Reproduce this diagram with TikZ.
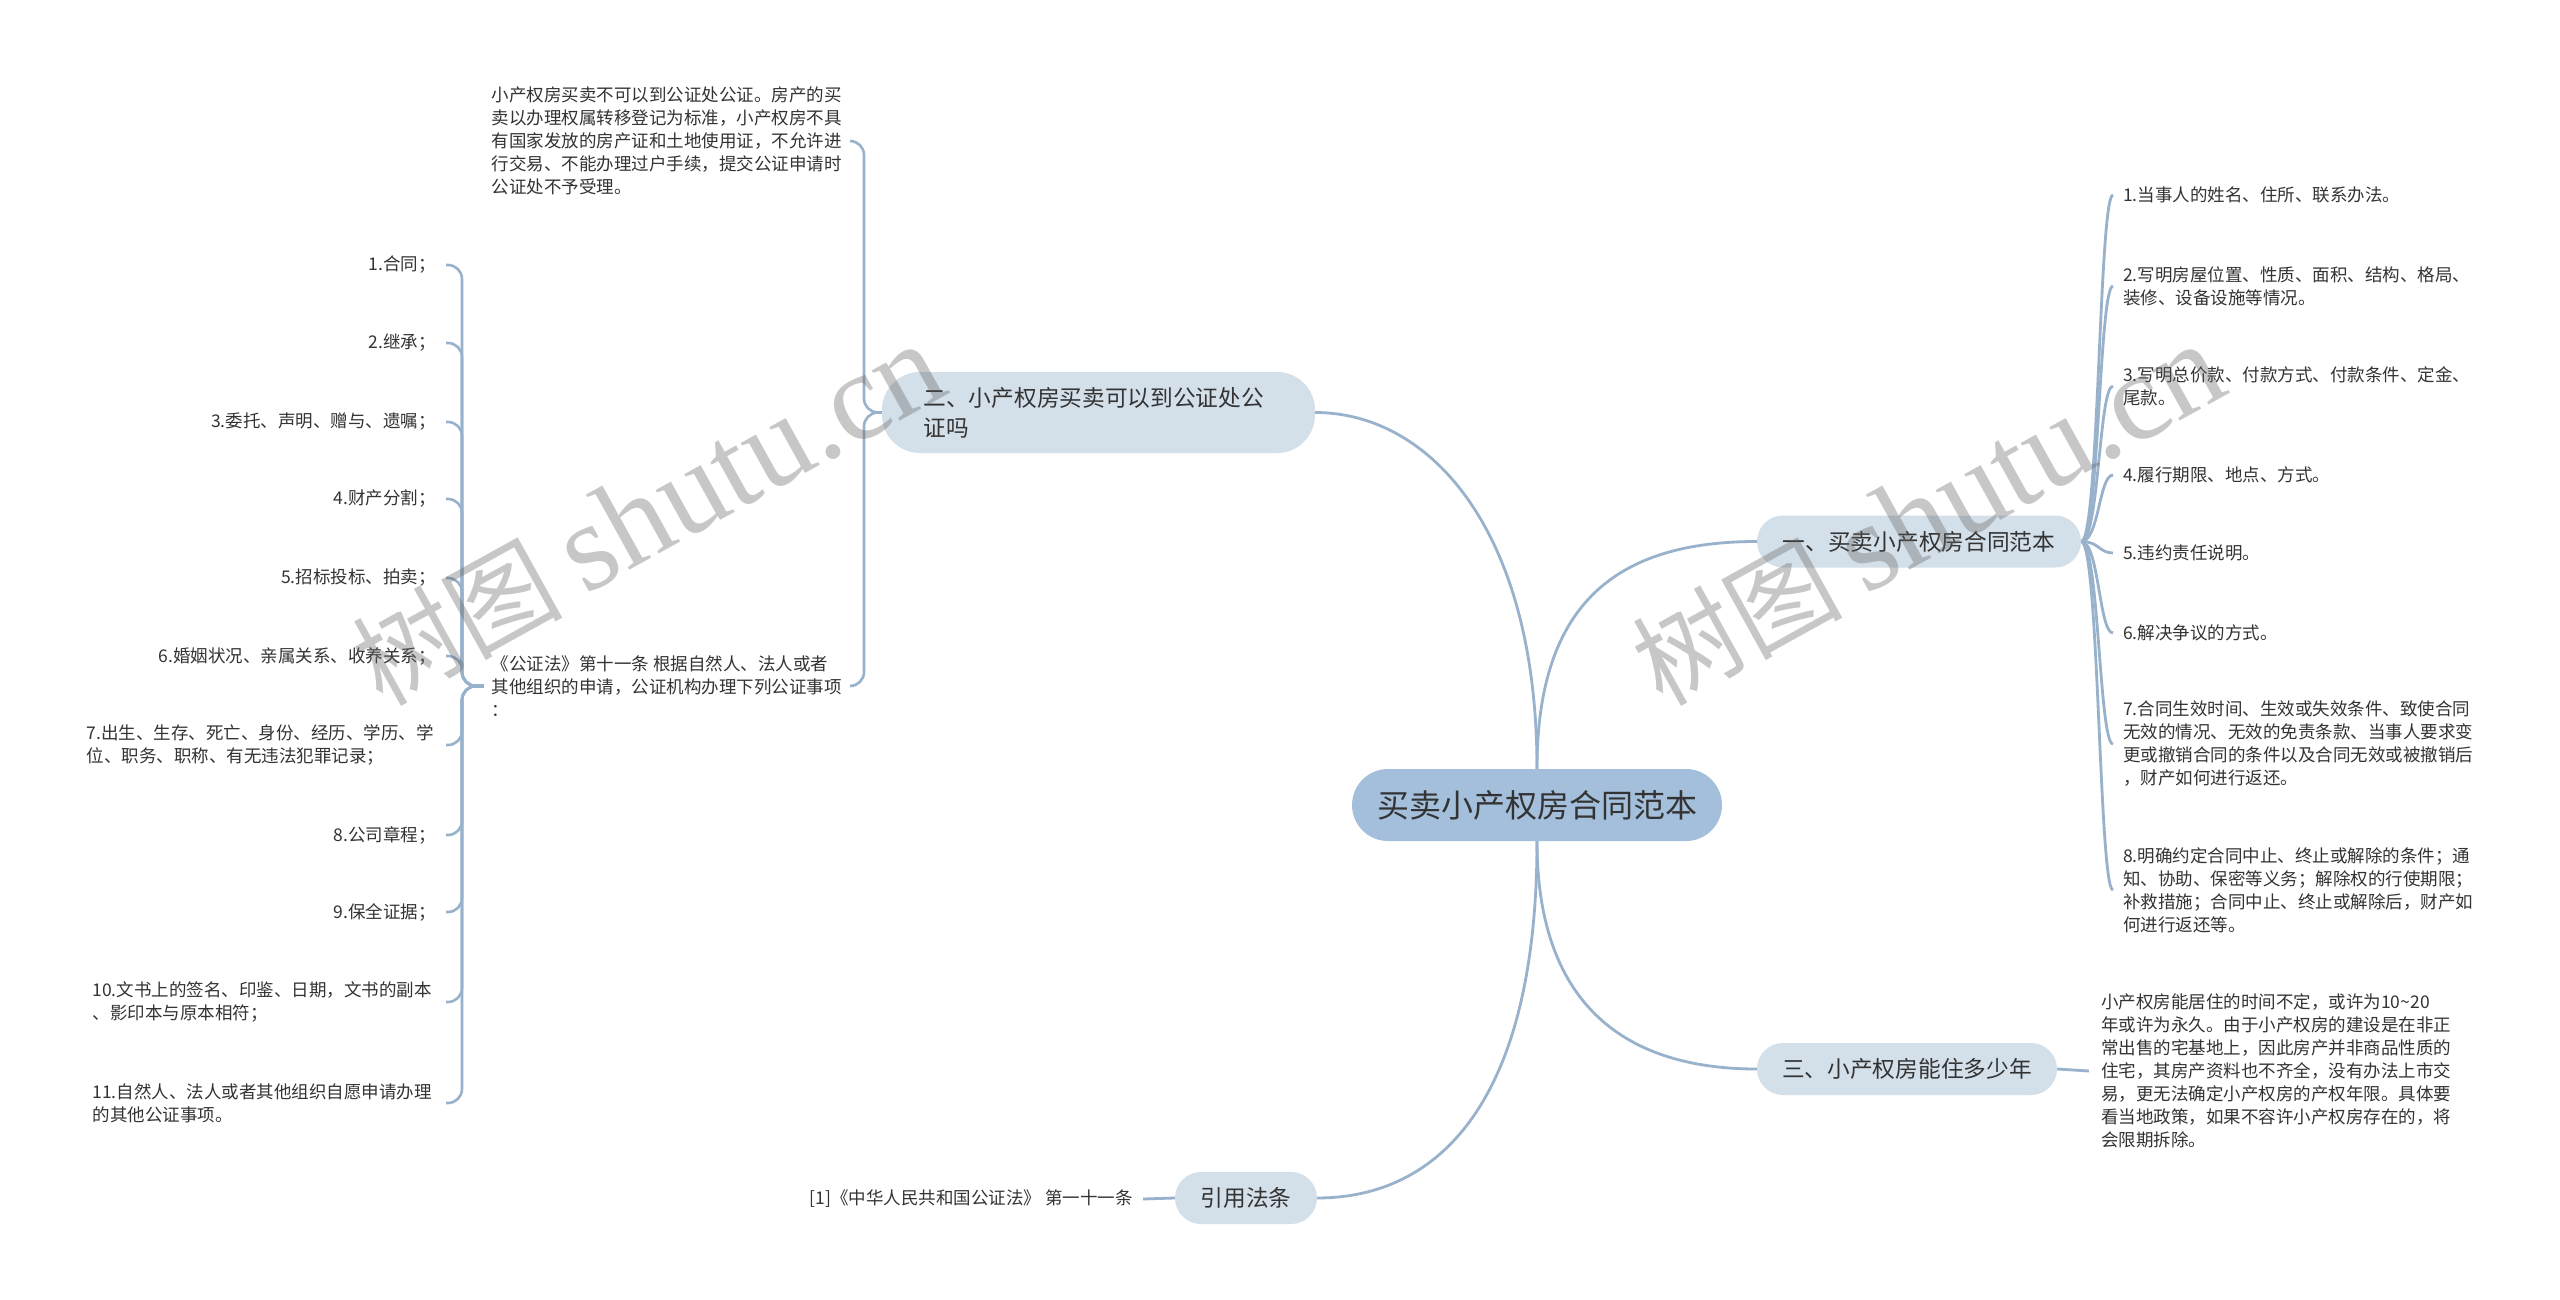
\documentclass[tikz,border=0pt]{standalone}
\usepackage{fontspec}
\setmainfont{Noto Sans CJK SC}
\newfontfamily\wmlat{Liberation Serif}
\usetikzlibrary{backgrounds}
\definecolor{rootc}{HTML}{A3BFDB}
\definecolor{topc}{HTML}{D3DFE9}
\definecolor{lnk}{HTML}{98B2CC}
\definecolor{txt}{HTML}{333333}
\begin{document}
\begin{tikzpicture}[x=1pt,y=-1pt,
  conn/.style={draw=lnk, line width=2.8pt},
  hook/.style={draw=lnk, line width=2.6pt, rounded corners=14pt},
  rootbox/.style={rectangle, rounded corners=36pt, fill=rootc, minimum width=370pt, minimum height=72pt, inner sep=0pt, text=txt, font=\fontsize{32}{38}\selectfont},
  topicbox/.style={rectangle, rounded corners=26pt, fill=topc, minimum height=52pt, inner sep=0pt, text=txt, font=\fontsize{22.7}{30}\selectfont},
  leaf/.style={inner ysep=0pt, align=left, text=txt, font=\fontsize{17.5}{23}\selectfont},
  wmark/.style={rotate=29, inner sep=0pt, text=black!62, text opacity=0.35}
]
\useasboundingbox (0,0) rectangle (2560,1300);

% main nodes
\node[rootbox] (root) at (1537,805) {买卖小产权房合同范本};
\node[topicbox, text width=350pt, align=left, inner xsep=41.5pt, minimum height=81pt, rounded corners=38pt] (t2) at (1098.5,412.5) {二、小产权房买卖可以到公证处公\\证吗};
\node[topicbox, minimum width=324pt] (t1) at (1919,541.5) {一、买卖小产权房合同范本};
\node[topicbox, minimum width=300pt] (t3) at (1907,1069) {三、小产权房能住多少年};
\node[topicbox, minimum width=142pt] (t4) at (1246,1198) {引用法条};

% branch two
\node[leaf, anchor=east, inner xsep=8pt] (p1) at (850,141) {小产权房买卖不可以到公证处公证。房产的买\\卖以办理权属转移登记为标准，小产权房不具\\有国家发放的房产证和土地使用证，不允许进\\行交易、不能办理过户手续，提交公证申请时\\公证处不予受理。};
\node[leaf, anchor=east, inner xsep=8pt] (law) at (850,686) {《公证法》第十一条 根据自然人、法人或者\\其他组织的申请，公证机构办理下列公证事项\\：};

\node[leaf, anchor=east, inner xsep=10pt] (a1) at (446,265) {1.合同；};
\node[leaf, anchor=east, inner xsep=10pt] (a2) at (446,343) {2.继承；};
\node[leaf, anchor=east, inner xsep=10pt] (a3) at (446,422) {3.委托、声明、赠与、遗嘱；};
\node[leaf, anchor=east, inner xsep=10pt] (a4) at (446,499) {4.财产分割；};
\node[leaf, anchor=east, inner xsep=10pt] (a5) at (446,578) {5.招标投标、拍卖；};
\node[leaf, anchor=east, inner xsep=10pt] (a6) at (446,656) {6.婚姻状况、亲属关系、收养关系；};
\node[leaf, anchor=east, inner xsep=12pt] (a7) at (446,745) {7.出生、生存、死亡、身份、经历、学历、学\\位、职务、职称、有无违法犯罪记录；};
\node[leaf, anchor=east, inner xsep=10pt] (a8) at (446,835) {8.公司章程；};
\node[leaf, anchor=east, inner xsep=10pt] (a9) at (446,912) {9.保全证据；};
\node[leaf, anchor=east, inner xsep=14pt] (a10) at (446,1002) {10.文书上的签名、印鉴、日期，文书的副本\\、影印本与原本相符；};
\node[leaf, anchor=east, inner xsep=14pt] (a11) at (446,1103) {11.自然人、法人或者其他组织自愿申请办理\\的其他公证事项。};

% branch one
\node[leaf, anchor=west, inner xsep=10pt] (b1) at (2113,195) {1.当事人的姓名、住所、联系办法。};
\node[leaf, anchor=west, inner xsep=10pt] (b2) at (2113,286) {2.写明房屋位置、性质、面积、结构、格局、\\装修、设备设施等情况。};
\node[leaf, anchor=west, inner xsep=10pt] (b3) at (2113,386) {3.写明总价款、付款方式、付款条件、定金、\\尾款。};
\node[leaf, anchor=west, inner xsep=10pt] (b4) at (2113,475) {4.履行期限、地点、方式。};
\node[leaf, anchor=west, inner xsep=10pt] (b5) at (2113,553) {5.违约责任说明。};
\node[leaf, anchor=west, inner xsep=10pt] (b6) at (2113,633) {6.解决争议的方式。};
\node[leaf, anchor=west, inner xsep=10pt] (b7) at (2113,744) {7.合同生效时间、生效或失效条件、致使合同\\无效的情况、无效的免责条款、当事人要求变\\更或撤销合同的条件以及合同无效或被撤销后\\，财产如何进行返还。};
\node[leaf, anchor=west, inner xsep=10pt] (b8) at (2113,890) {8.明确约定合同中止、终止或解除的条件；通\\知、协助、保密等义务；解除权的行使期限；\\补救措施；合同中止、终止或解除后，财产如\\何进行返还等。};

% branch three
\node[leaf, anchor=west, inner xsep=12pt] (p3) at (2089,1071) {小产权房能居住的时间不定，或许为10\textasciitilde20\\年或许为永久。由于小产权房的建设是在非正\\常出售的宅基地上，因此房产并非商品性质的\\住宅，其房产资料也不齐全，没有办法上市交\\易，更无法确定小产权房的产权年限。具体要\\看当地政策，如果不容许小产权房存在的，将\\会限期拆除。};

% references
\node[leaf, anchor=east, inner xsep=10pt] (ref) at (1143,1199) {[1]《中华人民共和国公证法》 第一十一条};

\coordinate (ltrunk) at (462,0);
\coordinate (mtrunk) at (864,0);
\coordinate (rtrunk) at (2099,0);

\begin{scope}[on background layer]
\fill[white] (0,0) rectangle (2560,1300);
% root connectors
\draw[conn] (root.north) .. controls (1537,530) and (1430,412.5) .. (t2.east);
\draw[conn] (root.north) .. controls (1537,600) and (1620,541.5) .. (t1.west);
\draw[conn] (root.south) .. controls (1537,1000) and (1620,1069) .. (t3.west);
\draw[conn] (root.south) .. controls (1537,1100) and (1440,1198) .. (t4.east);
% branch two
\draw[hook] (t2.west) -- (t2.west -| mtrunk) -- (p1.east -| mtrunk) -- (p1.east);
\draw[hook] (t2.west) -- (t2.west -| mtrunk) -- (law.east -| mtrunk) -- (law.east);
\foreach \n in {a1,a2,a3,a4,a5,a6,a7,a8,a9,a10,a11}
  \draw[hook] (law.west) -- (law.west -| ltrunk) -- (\n.east -| ltrunk) -- (\n.east);
% branch one
\foreach \n in {b1,b2,b3,b4,b5,b6,b7,b8}
  \draw[conn] (t1.east) .. controls (t1.east -| rtrunk) and (\n.west -| rtrunk) .. (\n.west);
% branch three and refs
\draw[conn] (t3.east) -- (p3.west);
\draw[conn] (t4.west) -- (ref.east);
\end{scope}

% watermarks
\node[wmark] (wm1) at (648,515) {\fontsize{105}{105}\selectfont 树图\hspace{22pt}{\wmlat\fontsize{125}{125}\selectfont shutu.cn}};
\node[wmark] (wm2) at (1928,515) {\fontsize{105}{105}\selectfont 树图\hspace{22pt}{\wmlat\fontsize{125}{125}\selectfont shutu.cn}};
\end{tikzpicture}
\end{document}
